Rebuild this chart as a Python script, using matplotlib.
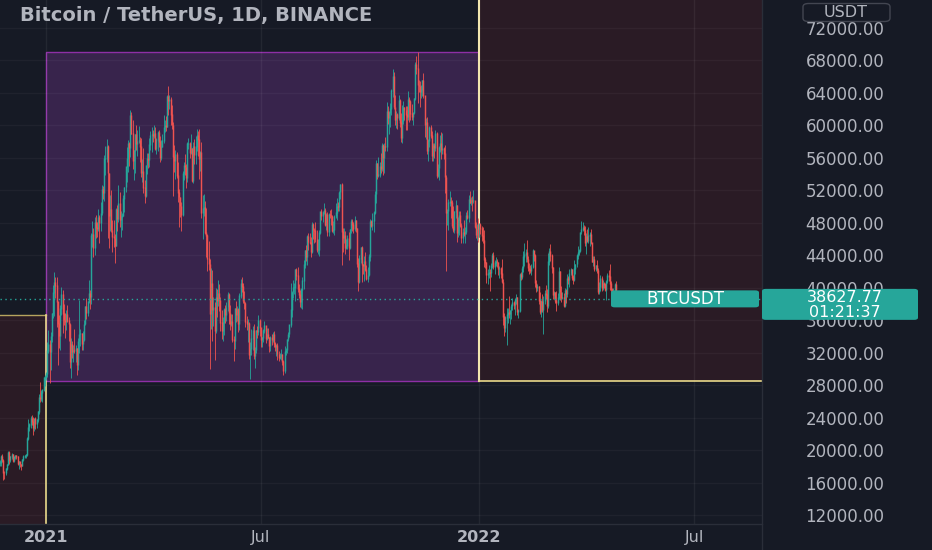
import numpy as np
import pandas as pd
import matplotlib
matplotlib.use("Agg")
import matplotlib.pyplot as plt
import matplotlib.dates as mdates
from matplotlib.patches import Rectangle, FancyBboxPatch
from matplotlib.lines import Line2D

# DATA ---------------------------------------------------------------------------------------------
# BTCUSDT daily candles from 2020-11-23, prices in thousands (open = previous close)
first_date = "2020-11-23"
first_open_k = 18.36

close_k = [
    18.41, 19.15, 18.72, 17.15, 17.14, 17.72, 18.18, 19.70,
    18.76, 19.20, 19.42, 18.65, 19.15, 19.36, 19.17, 18.32, 18.55, 18.25, 18.04, 18.80, 19.17, 19.27, 19.43, 21.38, 22.80, 23.11, 23.82, 23.46, 22.72, 23.82, 23.24, 23.73, 24.71, 26.49, 26.28, 27.08, 27.39, 28.88, 28.99,
    29.37, 32.20, 33.00, 32.02, 34.03, 36.82, 39.37, 40.67, 40.24, 38.24, 35.54, 34.01, 37.39, 39.15, 36.77, 36.01, 35.82, 36.63, 35.89, 35.47, 30.85, 33.01, 32.10, 32.29, 32.26, 32.50, 30.42, 33.40, 34.27, 34.32, 33.11,
    33.52, 35.51, 37.67, 36.94, 38.29, 39.26, 38.87, 46.45, 46.53, 44.85, 48.01, 47.41, 47.23, 48.59, 47.94, 49.15, 52.15, 51.68, 55.89, 55.92, 57.41, 54.09, 48.89, 49.68, 47.07, 46.28, 46.11, 45.14,
    49.59, 48.44, 50.35, 48.37, 48.76, 48.88, 50.97, 52.38, 54.88, 55.86, 57.80, 57.22, 61.18, 59.00, 55.64, 56.90, 58.91, 57.65, 58.03, 58.10, 57.35, 54.08, 54.34, 52.30, 51.30, 55.07, 55.86, 55.78, 57.63, 58.76, 58.92,
    58.73, 58.97, 57.06, 58.20, 59.13, 57.99, 56.00, 57.40, 58.08, 59.78, 59.99, 59.83, 63.58, 62.95, 63.16, 61.34, 60.01, 56.15, 55.63, 56.43, 53.79, 51.70, 51.15, 50.05, 49.00, 54.02, 55.03, 54.86, 53.56, 57.70,
    57.80, 56.58, 57.17, 53.20, 57.44, 56.40, 57.35, 58.80, 58.23, 55.86, 56.70, 49.15, 49.72, 49.88, 46.76, 46.43, 43.54, 42.89, 36.72, 40.56, 37.28, 37.53, 34.65, 38.80, 38.32, 39.24, 38.44, 35.66, 34.61, 35.68, 37.29,
    36.69, 37.57, 39.19, 36.85, 35.52, 35.80, 33.55, 33.40, 37.39, 36.68, 37.33, 35.55, 39.01, 40.52, 40.14, 38.35, 38.09, 35.82, 35.48, 35.60, 31.68, 32.50, 33.68, 34.66, 31.59, 32.28, 34.70, 34.49, 35.91, 35.04,
    33.54, 33.80, 34.70, 35.29, 33.69, 34.22, 33.86, 32.88, 33.81, 33.51, 34.26, 33.09, 32.73, 32.82, 31.78, 31.39, 31.53, 31.78, 30.84, 29.79, 32.14, 32.29, 33.64, 34.26, 35.42, 37.27, 39.46, 40.01, 40.01, 42.24, 41.46,
    39.85, 39.15, 38.20, 39.72, 40.87, 42.83, 44.61, 43.83, 46.29, 45.59, 45.55, 44.43, 47.83, 47.10, 47.05, 45.97, 44.70, 44.71, 46.76, 49.34, 48.87, 49.29, 49.51, 47.71, 48.99, 46.85, 49.07, 48.90, 48.81, 46.99, 47.13,
    48.81, 49.25, 49.94, 49.92, 51.76, 52.66, 46.86, 46.07, 46.37, 44.85, 45.16, 46.02, 44.94, 47.11, 48.14, 47.77, 47.28, 48.30, 47.26, 42.93, 40.69, 43.57, 44.90, 42.83, 42.70, 43.19, 42.23, 41.03, 41.52, 43.80,
    48.14, 47.65, 48.23, 49.25, 51.49, 55.34, 53.80, 53.95, 54.95, 54.66, 57.49, 56.01, 57.37, 57.35, 61.67, 60.88, 61.53, 62.02, 64.28, 66.00, 62.21, 60.69, 61.29, 60.86, 63.08, 60.33, 58.46, 60.59, 62.25, 61.88, 61.32,
    61.00, 63.23, 62.94, 61.45, 61.01, 61.53, 63.30, 67.55, 66.94, 64.95, 64.83, 64.16, 64.40, 65.52, 63.62, 60.11, 60.37, 56.90, 58.12, 59.72, 58.73, 56.29, 57.57, 57.16, 58.96, 53.73, 54.72, 57.28, 57.81, 56.95,
    57.18, 56.48, 53.60, 49.15, 49.40, 50.44, 50.59, 50.47, 47.55, 47.14, 49.39, 50.08, 46.70, 48.34, 48.86, 47.63, 46.13, 46.83, 46.68, 46.88, 48.94, 48.62, 50.82, 50.40, 50.78, 50.70, 50.70, 47.54, 46.46, 47.12, 46.21,
    47.72, 47.29, 46.43, 45.83, 43.43, 43.08, 41.55, 41.68, 41.86, 41.82, 42.74, 43.92, 42.59, 43.10, 43.18, 43.11, 42.25, 42.37, 41.68, 40.68, 36.45, 35.07, 36.28, 36.65, 36.95, 36.82, 37.20, 37.72, 38.17, 37.92, 38.48,
    38.74, 36.95, 37.15, 41.57, 41.38, 42.41, 43.84, 44.04, 44.38, 43.52, 42.39, 42.21, 42.05, 42.54, 44.58, 43.96, 40.54, 40.00, 40.10, 38.39, 37.02, 38.28, 37.26, 38.33, 39.22, 39.12, 37.70, 43.19,
    44.42, 43.92, 42.45, 39.15, 39.40, 38.42, 38.06, 38.74, 41.94, 39.44, 38.79, 38.81, 37.78, 39.67, 39.28, 41.12, 40.92, 41.76, 42.20, 41.26, 41.00, 42.36, 42.89, 43.96, 44.33, 44.54, 46.82, 47.13, 47.43, 47.06, 45.51,
    46.28, 45.81, 46.41, 46.58, 45.50, 43.17, 43.44, 42.25, 42.75, 42.16, 39.53, 40.07, 41.15, 39.94, 40.55, 40.38, 39.68, 40.80, 41.50, 41.36, 40.48, 39.71, 39.45, 39.45, 40.43, 38.63,
]

high_k = [
    18.75, 19.42, 19.48, 18.92, 17.46, 17.85, 18.34, 19.86,
    19.89, 19.31, 19.60, 19.50, 19.18, 19.42, 19.40, 19.29, 18.64, 18.56, 18.28, 18.95, 19.41, 19.35, 19.57, 21.56, 23.80, 23.29, 24.20, 24.30, 24.10, 23.84, 24.10, 23.79, 24.79, 26.87, 28.42, 27.41, 27.41, 28.99, 29.30,
    29.60, 33.30, 34.78, 33.60, 34.50, 36.94, 40.37, 41.95, 41.38, 41.35, 38.26, 36.63, 37.85, 40.10, 39.75, 37.95, 36.85, 37.30, 37.85, 36.42, 35.60, 33.83, 33.46, 32.94, 34.88, 32.92, 32.56, 33.78, 38.53, 34.93, 34.37,
    34.72, 35.98, 37.70, 38.71, 38.31, 40.96, 39.70, 46.79, 48.20, 47.31, 48.68, 48.99, 48.15, 49.71, 49.00, 50.62, 52.62, 52.55, 56.37, 57.49, 58.35, 57.53, 54.18, 51.37, 52.04, 48.37, 48.39, 46.63,
    49.79, 50.20, 52.64, 51.77, 49.44, 49.20, 51.45, 52.40, 54.90, 57.39, 58.15, 58.00, 61.84, 61.68, 60.63, 56.94, 58.98, 60.07, 59.45, 59.88, 58.59, 58.42, 55.83, 57.20, 53.23, 55.10, 56.64, 56.56, 58.41, 59.37, 59.80,
    59.46, 60.04, 59.79, 58.50, 59.25, 59.47, 58.65, 58.15, 58.89, 61.22, 60.69, 61.20, 63.77, 64.85, 63.80, 63.52, 62.57, 60.41, 57.55, 57.00, 56.76, 55.47, 52.13, 51.17, 50.59, 54.36, 55.46, 56.43, 55.20, 57.96,
    58.45, 57.90, 58.97, 57.20, 57.94, 58.36, 58.65, 59.50, 59.30, 59.59, 56.85, 58.00, 51.37, 51.56, 50.70, 49.80, 46.64, 45.80, 43.55, 42.46, 42.20, 38.83, 38.27, 39.92, 39.80, 40.90, 40.41, 38.85, 37.24, 36.42, 37.50,
    37.89, 38.23, 39.48, 39.29, 37.92, 36.79, 36.80, 34.07, 37.53, 38.40, 37.69, 37.45, 39.32, 41.06, 41.33, 40.53, 39.56, 38.20, 36.46, 36.14, 35.74, 33.30, 34.88, 35.30, 35.50, 32.73, 34.75, 35.30, 36.67, 36.10,
    35.04, 33.95, 34.95, 35.95, 35.29, 35.06, 35.06, 33.93, 34.09, 34.27, 34.59, 34.67, 33.34, 33.11, 33.19, 32.25, 31.95, 32.44, 31.89, 31.04, 32.86, 32.60, 33.65, 34.50, 35.43, 40.55, 39.54, 40.90, 40.62, 42.32, 42.41,
    42.60, 40.46, 39.78, 39.97, 41.36, 43.39, 44.70, 45.31, 46.45, 46.70, 46.74, 46.22, 48.14, 48.00, 47.37, 48.05, 47.16, 46.00, 47.10, 49.38, 49.76, 49.50, 50.50, 49.88, 49.23, 49.35, 49.17, 49.60, 49.64, 48.91, 48.24,
    49.00, 50.40, 51.03, 50.55, 51.90, 52.80, 52.92, 47.38, 47.34, 47.03, 45.99, 46.45, 46.88, 47.25, 48.47, 48.47, 48.14, 48.81, 48.37, 47.33, 43.63, 44.00, 44.98, 45.20, 42.97, 43.92, 44.35, 42.78, 42.60, 44.13,
    48.50, 48.36, 49.23, 49.50, 51.89, 55.75, 55.33, 56.10, 55.49, 56.56, 57.84, 57.68, 57.80, 58.53, 62.93, 62.35, 61.72, 62.70, 64.49, 67.00, 66.64, 63.72, 61.75, 61.49, 63.71, 63.29, 61.50, 62.50, 62.96, 62.27, 62.43,
    62.44, 64.27, 63.52, 63.13, 62.60, 61.56, 63.33, 67.79, 68.52, 69.00, 65.60, 65.46, 64.95, 65.55, 66.40, 63.62, 60.90, 60.98, 58.38, 59.90, 60.05, 59.29, 57.88, 57.88, 59.40, 59.21, 55.30, 57.44, 58.87, 59.18,
    59.05, 57.40, 57.60, 53.87, 49.70, 50.88, 51.94, 51.20, 50.80, 50.10, 49.49, 50.80, 50.20, 48.70, 49.50, 49.43, 47.99, 47.32, 48.30, 47.54, 49.33, 49.58, 51.38, 51.87, 51.16, 51.26, 52.09, 50.70, 48.14, 47.90, 48.55,
    47.95, 47.99, 47.57, 47.50, 47.07, 43.75, 43.15, 42.30, 42.79, 42.25, 43.10, 44.32, 44.46, 43.45, 43.80, 43.48, 43.18, 42.69, 42.60, 43.50, 41.10, 36.83, 36.50, 37.55, 37.55, 38.92, 37.23, 38.00, 38.72, 38.36, 38.74,
    39.27, 38.85, 37.39, 41.77, 41.94, 42.66, 44.50, 45.49, 44.79, 45.82, 43.92, 43.00, 42.76, 42.88, 44.77, 44.58, 44.20, 40.99, 40.47, 40.16, 39.50, 38.44, 39.25, 39.00, 39.73, 40.30, 39.87, 44.23,
    44.95, 45.40, 44.10, 42.53, 39.63, 39.48, 39.55, 39.38, 42.59, 42.05, 40.24, 39.49, 39.31, 39.95, 39.89, 41.72, 41.48, 42.33, 42.40, 42.30, 41.55, 43.36, 42.89, 44.20, 45.09, 44.80, 46.92, 48.19, 48.10, 47.70, 47.60,
    46.72, 47.21, 47.44, 46.89, 47.20, 45.52, 43.90, 43.97, 42.80, 43.41, 42.42, 40.70, 41.56, 41.50, 40.90, 40.71, 40.60, 40.97, 41.76, 42.20, 42.98, 40.80, 39.99, 39.93, 40.62, 40.80,
]

low_k = [
    18.00, 18.02, 18.57, 16.33, 16.45, 16.88, 17.52, 18.18,
    18.33, 18.50, 18.87, 18.57, 18.50, 18.86, 18.90, 18.20, 17.65, 17.91, 17.57, 18.02, 18.71, 19.00, 19.05, 19.29, 21.23, 22.35, 22.75, 23.06, 21.82, 22.35, 22.60, 22.70, 23.43, 24.50, 25.87, 26.10, 25.88, 27.32, 27.85,
    28.62, 28.95, 31.96, 28.30, 29.90, 33.30, 36.30, 36.50, 38.72, 35.11, 30.42, 32.53, 32.38, 36.70, 34.41, 35.36, 33.85, 34.82, 35.74, 33.40, 30.07, 28.85, 31.40, 30.90, 31.91, 30.84, 29.24, 29.84, 31.99, 32.83, 32.30,
    32.30, 33.42, 35.36, 36.16, 36.57, 38.12, 37.35, 37.99, 45.02, 43.73, 43.99, 46.13, 46.20, 47.02, 45.57, 47.01, 48.96, 50.90, 50.73, 53.86, 55.48, 46.12, 44.89, 47.00, 46.85, 44.45, 45.00, 43.00,
    45.12, 47.05, 48.10, 47.50, 46.30, 47.07, 48.88, 49.27, 51.84, 53.05, 54.27, 55.00, 56.08, 58.97, 54.60, 53.27, 54.12, 57.02, 56.27, 57.82, 55.45, 53.65, 53.00, 51.70, 50.43, 51.22, 53.96, 54.69, 54.90, 57.01, 56.77,
    57.93, 58.45, 56.96, 56.48, 56.79, 57.33, 55.47, 55.70, 57.63, 57.88, 59.22, 59.37, 59.76, 61.30, 62.02, 60.00, 59.58, 51.30, 54.22, 53.40, 53.56, 50.58, 47.50, 48.75, 46.93, 48.80, 53.22, 53.88, 52.33, 53.01,
    57.05, 56.04, 56.44, 53.05, 52.90, 55.20, 55.24, 56.90, 56.24, 53.40, 54.37, 48.60, 46.00, 48.81, 46.65, 43.83, 42.00, 42.17, 30.00, 34.86, 33.49, 35.26, 31.11, 34.42, 36.42, 37.80, 37.17, 34.68, 33.63, 33.38, 34.15,
    35.67, 35.92, 37.17, 35.57, 34.80, 35.26, 33.34, 31.00, 32.40, 35.78, 35.94, 34.60, 34.75, 38.73, 39.51, 38.12, 37.37, 35.13, 34.82, 33.34, 31.25, 28.81, 31.68, 32.29, 31.28, 30.15, 32.00, 33.86, 34.23, 34.00,
    32.71, 32.70, 33.32, 34.37, 33.15, 33.53, 33.76, 32.10, 32.26, 33.00, 33.30, 32.68, 32.20, 31.60, 31.13, 31.02, 31.16, 31.10, 30.43, 29.28, 29.48, 31.71, 31.95, 33.40, 33.88, 35.21, 36.41, 38.77, 39.20, 38.31, 41.00,
    39.42, 38.69, 37.64, 37.51, 37.33, 39.85, 42.45, 43.26, 42.80, 44.69, 45.35, 43.77, 44.25, 45.97, 45.52, 45.66, 44.38, 44.21, 43.93, 46.65, 48.30, 48.10, 49.03, 47.60, 47.12, 46.32, 46.36, 48.60, 47.77, 46.85, 46.70,
    46.51, 48.58, 48.35, 49.51, 49.46, 50.97, 42.84, 44.41, 45.51, 44.15, 44.73, 44.74, 43.37, 44.75, 46.70, 47.05, 46.75, 47.05, 46.85, 42.50, 39.60, 40.55, 43.07, 40.67, 41.65, 40.80, 42.10, 40.92, 40.75, 41.41,
    43.30, 47.43, 47.10, 46.89, 49.07, 50.38, 53.36, 53.62, 53.66, 54.08, 54.42, 53.88, 54.17, 56.82, 56.85, 60.15, 58.96, 59.85, 61.32, 63.48, 62.00, 60.00, 59.67, 59.51, 60.65, 59.82, 58.00, 57.82, 60.17, 60.72, 59.48,
    59.41, 60.62, 60.38, 60.68, 60.72, 60.02, 61.38, 63.09, 66.33, 62.82, 64.10, 62.28, 63.36, 63.58, 63.40, 58.57, 58.37, 56.48, 55.60, 57.40, 58.47, 55.61, 55.58, 55.95, 56.81, 53.50, 53.61, 53.33, 56.73, 55.88,
    56.46, 55.84, 51.68, 42.00, 47.73, 47.10, 50.04, 48.60, 47.32, 46.85, 46.75, 48.65, 45.67, 46.29, 46.55, 47.51, 45.46, 45.53, 46.41, 45.56, 46.63, 48.42, 48.05, 50.40, 50.19, 49.44, 50.45, 47.32, 46.10, 45.90, 45.68,
    46.21, 46.65, 45.70, 45.50, 42.50, 42.43, 40.61, 40.50, 41.25, 39.65, 41.27, 42.45, 42.32, 41.73, 42.65, 42.60, 41.54, 41.25, 41.14, 40.55, 35.44, 34.01, 34.60, 32.92, 35.70, 36.23, 35.51, 36.16, 37.30, 37.35, 36.63,
    38.02, 36.59, 36.25, 36.97, 40.95, 41.10, 41.90, 42.67, 43.12, 43.19, 42.00, 41.75, 41.85, 41.57, 42.43, 43.33, 40.07, 39.45, 39.64, 38.00, 36.80, 36.35, 37.04, 34.32, 38.01, 38.56, 37.00, 37.45,
    42.82, 43.33, 41.83, 38.65, 38.59, 38.09, 37.16, 37.86, 38.65, 38.54, 38.22, 38.66, 37.58, 37.58, 38.11, 38.84, 40.50, 40.13, 41.52, 40.91, 40.50, 40.87, 41.75, 42.56, 43.60, 44.07, 44.42, 46.66, 46.95, 46.55, 45.20,
    44.20, 45.63, 45.52, 45.12, 45.35, 43.12, 42.73, 42.11, 42.12, 41.87, 39.20, 39.25, 39.55, 39.55, 39.76, 40.01, 39.55, 38.54, 40.57, 40.81, 39.75, 39.18, 39.28, 38.88, 38.20, 37.70,
]

last_price = 38627.77
countdown = "01:21:37"
title = "Bitcoin / TetherUS, 1D, BINANCE"

# drawn boxes (dates, prices)
box_2021 = ("2021-01-01", "2022-01-01", 28500, 69000)
prev_box_top = 36650
next_box_bottom = 28500

price_ticks = list(range(12000, 72001, 4000))
time_ticks = ["2021-01-01", "2021-07-01", "2022-01-01", "2022-07-01"]
time_labels = ["2021", "Jul", "2022", "Jul"]

# COLORS -------------------------------------------------------------------------------------------
BG = "#161a25"
TXT = "#b2b5be"
UP = "#26a69a"
DOWN = "#ef5350"
PURPLE_FILL = "#38244c"
PURPLE_EDGE = "#8e2fa6"
RED_FILL = "#2a1b25"
YELLOW = "#ead98a"
AXLINE = "#2a2e39"

# PREP ---------------------------------------------------------------------------------------------
close = np.array(close_k) * 1000
high = np.array(high_k) * 1000
low = np.array(low_k) * 1000
opn = np.concatenate([[first_open_k * 1000], close[:-1]])
high = np.maximum(high, np.maximum(opn, close))
low = np.minimum(low, np.minimum(opn, close))

dates = pd.date_range(first_date, periods=len(close), freq="D")
x = mdates.date2num(dates)
up = close >= opn

day0 = mdates.date2num(pd.Timestamp("2021-01-01"))
x_lo, x_hi = day0 - 38.75, day0 + 603.2
y_lo, y_hi = 10890, 75450

# FIGURE -------------------------------------------------------------------------------------------
W, H = 932, 550
fig = plt.figure(figsize=(W / 100, H / 100), dpi=100, facecolor=BG)
ax = fig.add_axes([0, 26 / H, 762 / W, 524 / H], facecolor=BG)
ax.set_xlim(x_lo, x_hi)
ax.set_ylim(y_lo, y_hi)
for s in ax.spines.values():
    s.set_visible(False)

px = (y_hi - y_lo) / 524.0  # price per pixel

# boxes
b0, b1 = mdates.date2num(pd.Timestamp(box_2021[0])), mdates.date2num(pd.Timestamp(box_2021[1]))
ax.add_patch(Rectangle((x_lo - 5, y_lo - 5000), b0 - x_lo + 5, prev_box_top - y_lo + 5000,
                       facecolor=RED_FILL, edgecolor="none", zorder=1))
ax.plot([x_lo, b0], [prev_box_top, prev_box_top], color="#b5a45e", lw=1.0, zorder=2)
ax.plot([b0, b0], [y_lo, prev_box_top], color=YELLOW, lw=1.2, zorder=2)

ax.add_patch(Rectangle((b0, box_2021[2]), b1 - b0, box_2021[3] - box_2021[2],
                       facecolor=PURPLE_FILL, edgecolor=PURPLE_EDGE, lw=1.0, zorder=1))

ax.add_patch(Rectangle((b1, next_box_bottom), x_hi - b1 + 20, y_hi - next_box_bottom + 5000,
                       facecolor=RED_FILL, edgecolor="none", zorder=1))
ax.plot([b1, b1], [next_box_bottom, y_hi], color="#f3e7b0", lw=1.5, zorder=2)
ax.plot([b1, x_hi], [next_box_bottom, next_box_bottom], color=YELLOW, lw=1.2, zorder=2)

# grid
tick_x = [mdates.date2num(pd.Timestamp(t)) for t in time_ticks]
for tx in tick_x:
    ax.axvline(tx, color="white", alpha=0.06, lw=1, zorder=1.5)
for ty in price_ticks:
    ax.axhline(ty, color="white", alpha=0.04, lw=1, zorder=1.5)

# candles
for mask, col in ((up, UP), (~up, DOWN)):
    ax.vlines(x[mask], low[mask], high[mask], color=col, lw=0.6, zorder=3)
    ax.vlines(x[mask], np.minimum(opn, close)[mask], np.maximum(opn, close)[mask] + 0.6 * px,
              color=col, lw=1.05, zorder=3)

# last price line
ax.axhline(last_price, color=UP, lw=1.0, ls=(0, (1, 2.5)), zorder=4)

# axes ticks
ax.yaxis.tick_right()
ax.set_yticks(price_ticks)
ax.set_yticklabels([f"{v:.2f}" for v in price_ticks])
ax.tick_params(axis="y", length=0, pad=(845 - 762) * 0.72, colors=TXT, labelsize=12)
for lab in ax.get_yticklabels():
    lab.set_ha("center")
ax.set_xticks(tick_x)
ax.set_xticklabels(time_labels)
ax.tick_params(axis="x", length=0, pad=4.5, colors=TXT, labelsize=11.5)
for lab in ax.get_xticklabels():
    if lab.get_text().isdigit():
        lab.set_fontweight("bold")

# axis borders
fig.add_artist(Line2D([762 / W, 762 / W], [0, 1], color=AXLINE, lw=1))
fig.add_artist(Line2D([0, 762 / W], [26 / H, 26 / H], color=AXLINE, lw=1))

# price labels (figure level so they sit above the tick labels)
fig.canvas.draw()
py = ax.transData.transform((0, last_price))[1] / H  # figure fraction of the price level
fig.add_artist(FancyBboxPatch((611 / W, py - 8.5 / H), (759 - 611) / W, 17 / H,
                              boxstyle="round,pad=0,rounding_size=0.004", transform=fig.transFigure,
                              facecolor=UP, edgecolor="none", zorder=10))
fig.text((611 + 759) / 2 / W, py, "BTCUSDT", color="white", fontsize=12,
         ha="center", va="center", zorder=11)
fig.add_artist(FancyBboxPatch((762 / W, py - 21 / H), (918 - 762) / W, 31 / H,
                              boxstyle="round,pad=0,rounding_size=0.004", transform=fig.transFigure,
                              facecolor=UP, edgecolor="none", zorder=10))
fig.text(845 / W, py + 1 / H, f"{last_price:.2f}", color="white", fontsize=11.5,
         ha="center", va="center", zorder=11)
fig.text(845 / W, py - 14 / H, countdown, color="white", fontsize=11.5,
         ha="center", va="center", zorder=11)

# currency box
fig.add_artist(FancyBboxPatch((803 / W, 1 - 21.5 / H), 87 / W, 18 / H,
                              boxstyle="round,pad=0,rounding_size=0.006",
                              transform=fig.transFigure, facecolor=BG, edgecolor="#434651", lw=1))
fig.text(846 / W, 1 - 12.5 / H, "USDT", color=TXT, fontsize=11.5, ha="center", va="center")

# title
fig.text(20 / W, 1 - 15 / H, title, color=TXT, fontsize=14, fontweight="bold",
         ha="left", va="center")

fig.savefig("out.png", dpi=100, facecolor=BG)
